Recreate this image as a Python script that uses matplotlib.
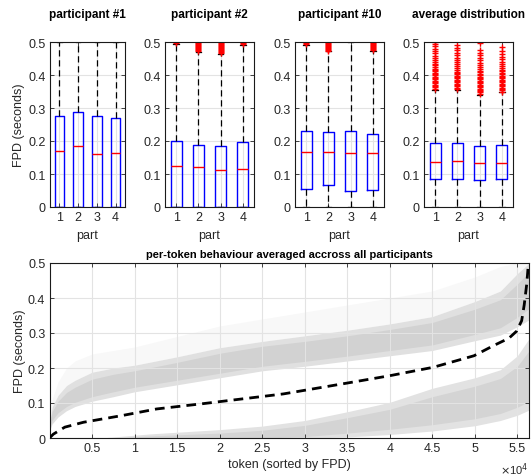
import matplotlib
matplotlib.use('Agg')
import matplotlib.pyplot as plt
import numpy as np

plt.rcParams['font.family'] = ['Liberation Sans', 'DejaVu Sans']

# ---------------- data: top box plots ----------------
panel_titles = ['participant #1', 'participant #2', 'participant #10', 'average distribution']
parts = [1, 2, 3, 4]

p1_q1 = [0.0, 0.0, 0.0, 0.0]
p1_med = [0.169, 0.185, 0.162, 0.164]
p1_q3 = [0.275, 0.289, 0.276, 0.270]
p1_lo = [0.0, 0.0, 0.0, 0.0]
p1_hi = [0.5, 0.5, 0.5, 0.5]
p1_out = [[], [], [], []]

p2_q1 = [0.0, 0.0, 0.0, 0.0]
p2_med = [0.123, 0.121, 0.111, 0.114]
p2_q3 = [0.199, 0.188, 0.185, 0.196]
p2_lo = [0.0, 0.0, 0.0, 0.0]
p2_hi = [0.495, 0.470, 0.463, 0.492]
p2_out = [[0.497, 0.5],
          [0.473, 0.476, 0.479, 0.482, 0.485, 0.488, 0.491, 0.494, 0.497, 0.5],
          [0.466, 0.469, 0.472, 0.475, 0.478, 0.481, 0.484, 0.487, 0.490, 0.493, 0.496, 0.5],
          [0.494, 0.497, 0.5]]

p3_q1 = [0.056, 0.066, 0.049, 0.053]
p3_med = [0.167, 0.167, 0.164, 0.164]
p3_q3 = [0.229, 0.228, 0.229, 0.221]
p3_lo = [0.0, 0.0, 0.0, 0.0]
p3_hi = [0.492, 0.472, 0.5, 0.474]
p3_out = [[0.494, 0.497, 0.5],
          [0.474, 0.477, 0.480, 0.483, 0.486, 0.489, 0.492, 0.495, 0.498, 0.5],
          [],
          [0.476, 0.479, 0.482, 0.485, 0.488, 0.491, 0.494, 0.497, 0.5]]

p4_q1 = [0.085, 0.086, 0.082, 0.084]
p4_med = [0.135, 0.138, 0.132, 0.134]
p4_q3 = [0.193, 0.193, 0.186, 0.189]
p4_lo = [0.0, 0.0, 0.0, 0.0]
p4_hi = [0.356, 0.355, 0.340, 0.347]
p4_out = [[0.359, 0.363, 0.367, 0.371, 0.375, 0.379, 0.383, 0.387, 0.391, 0.395, 0.399, 0.403,
           0.407, 0.411, 0.415, 0.419, 0.424, 0.429, 0.434, 0.440, 0.446, 0.452, 0.459, 0.466,
           0.473, 0.480, 0.487, 0.494, 0.5],
          [0.358, 0.362, 0.366, 0.370, 0.374, 0.378, 0.382, 0.386, 0.390, 0.394, 0.398, 0.402,
           0.406, 0.410, 0.415, 0.420, 0.426, 0.432, 0.438, 0.445, 0.452, 0.460, 0.468, 0.476,
           0.483, 0.490],
          [0.343, 0.347, 0.351, 0.355, 0.359, 0.363, 0.367, 0.371, 0.375, 0.379, 0.383, 0.387,
           0.391, 0.395, 0.399, 0.403, 0.408, 0.413, 0.418, 0.424, 0.430, 0.437, 0.444, 0.452,
           0.460, 0.468, 0.476, 0.497],
          [0.350, 0.354, 0.358, 0.362, 0.366, 0.370, 0.374, 0.378, 0.382, 0.386, 0.390, 0.394,
           0.398, 0.402, 0.406, 0.411, 0.416, 0.421, 0.427, 0.433, 0.440, 0.447, 0.455, 0.463,
           0.472, 0.485]]

panels = [
    (p1_q1, p1_med, p1_q3, p1_lo, p1_hi, p1_out),
    (p2_q1, p2_med, p2_q3, p2_lo, p2_hi, p2_out),
    (p3_q1, p3_med, p3_q3, p3_lo, p3_hi, p3_out),
    (p4_q1, p4_med, p4_q3, p4_lo, p4_hi, p4_out),
]

ytick_vals = [0, 0.1, 0.2, 0.3, 0.4, 0.5]
ytick_labels = ['0', '0.1', '0.2', '0.3', '0.4', '0.5']

# ---------------- data: bottom per-token plot ----------------
mean_x = [0, 450, 1800, 4000, 8500, 12600, 18000, 24800, 27500, 35000, 40000, 45100,
          49900, 52200, 54000, 54900, 55500, 55800, 56100, 56300]
mean_y = [0, 0.011, 0.031, 0.045, 0.064, 0.083, 0.098, 0.118, 0.126, 0.157, 0.178, 0.202,
          0.235, 0.264, 0.285, 0.305, 0.335, 0.380, 0.440, 0.500]

# upper cloud: outer edges (visible extent) and dense core
up_x = [0, 300, 1000, 2000, 3000, 5000, 7500, 10000, 15000, 20000, 25000, 30000, 35000,
        40000, 45000, 50000, 53000, 55000, 56400]
up_lo = [0.020, 0.040, 0.060, 0.078, 0.090, 0.105, 0.118, 0.132, 0.152, 0.172, 0.192, 0.205,
         0.220, 0.235, 0.250, 0.278, 0.294, 0.318, 0.338]
up_hi = [0.040, 0.088, 0.122, 0.150, 0.165, 0.188, 0.200, 0.208, 0.232, 0.258, 0.276, 0.292,
         0.308, 0.326, 0.347, 0.390, 0.420, 0.470, 0.500]
up_core_lo = [0.025, 0.050, 0.072, 0.090, 0.102, 0.118, 0.132, 0.145, 0.165, 0.185, 0.205, 0.219,
              0.234, 0.250, 0.266, 0.296, 0.315, 0.345, 0.370]
up_core_hi = [0.035, 0.075, 0.105, 0.130, 0.145, 0.168, 0.182, 0.192, 0.216, 0.242, 0.262, 0.276,
              0.292, 0.310, 0.330, 0.368, 0.395, 0.440, 0.475]
up_sparse_hi = [0.05, 0.11, 0.16, 0.20, 0.22, 0.24, 0.25, 0.26, 0.29, 0.32, 0.34, 0.36,
                0.38, 0.40, 0.42, 0.46, 0.49, 0.50, 0.50]

lo_x = [6000, 9000, 12000, 20000, 25000, 30000, 35000, 40000, 45000, 50000, 53000, 55000, 56400]
lo_lo = [0.0, 0.0, 0.0, 0.0, 0.0, 0.0, 0.003, 0.010, 0.020, 0.035, 0.050, 0.065, 0.080]
lo_hi = [0.0, 0.006, 0.012, 0.024, 0.034, 0.050, 0.075, 0.102, 0.142, 0.172, 0.195, 0.235, 0.285]
lo_core_lo = [0.0, 0.0, 0.0, 0.0, 0.0, 0.004, 0.014, 0.025, 0.038, 0.055, 0.070, 0.088, 0.105]
lo_core_hi = [0.0, 0.002, 0.006, 0.014, 0.022, 0.036, 0.058, 0.082, 0.118, 0.148, 0.170, 0.205, 0.250]

xtick_vals = [5000, 10000, 15000, 20000, 25000, 30000, 35000, 40000, 45000, 50000, 55000]
xtick_labels = ['0.5', '1', '1.5', '2', '2.5', '3', '3.5', '4', '4.5', '5', '5.5']

# ---------------- figure ----------------
W, H = 531, 477
fig = plt.figure(figsize=(W / 100, H / 100), dpi=100)

def px_axes(x0, x1, y0, y1):
    return fig.add_axes([x0 / W, 1 - y1 / H, (x1 - x0) / W, (y1 - y0) / H])

TXT = '#262626'
GRID = '#e3e3e3'

def style(ax):
    ax.tick_params(direction='in', length=3, width=0.6, top=True, right=True,
                   labelsize=9, colors=TXT, pad=3)
    for s in ax.spines.values():
        s.set_linewidth(0.8)
        s.set_color('#1a1a1a')
    ax.grid(True, color=GRID, linewidth=0.8)
    ax.set_axisbelow(True)

top_x = [(50, 125), (165, 254), (295, 384), (424, 513)]
for i, (title, (q1, med, q3, lo, hi, out)) in enumerate(zip(panel_titles, panels)):
    ax = px_axes(top_x[i][0], top_x[i][1], 43, 208)
    style(ax)
    stats = []
    for j in range(4):
        stats.append(dict(med=med[j], q1=q1[j], q3=q3[j], whislo=lo[j], whishi=hi[j],
                          fliers=out[j]))
    ax.bxp(stats, positions=parts, widths=0.5, showfliers=True,
           boxprops=dict(color='#0000ff', linewidth=1.0),
           medianprops=dict(color='#ff0000', linewidth=1.0),
           whiskerprops=dict(color='black', linewidth=0.9, linestyle=(0, (5, 3))),
           capprops=dict(color='black', linewidth=0.9),
           capwidths=0.25,
           flierprops=dict(marker='+', markeredgecolor='#ff0000', markersize=5,
                           markeredgewidth=1.0, linestyle='none'))
    ax.set_xlim(0.5, 4.5)
    ax.set_ylim(0, 0.5)
    ax.set_xticks(parts)
    ax.set_xticklabels([str(p) for p in parts])
    ax.set_yticks(ytick_vals)
    ax.set_yticklabels(ytick_labels)
    ax.set_xlabel('part', fontsize=9, color=TXT)
    ax.xaxis.set_label_coords(0.5, -0.135)
    ax.set_title(title, fontsize=8.5, fontweight='bold', pad=18, color='black')
    if i == 0:
        ax.set_ylabel('FPD (seconds)', fontsize=9, color=TXT)
        ax.yaxis.set_label_coords(-0.33, 0.5)

# bottom plot
axb = px_axes(49.5, 529.3, 264, 439)
style(axb)
axb.set_axisbelow('line')
axb.set_xlim(0, 56400)
axb.set_ylim(0, 0.5)

axb.fill_between(up_x, up_hi, up_sparse_hi, color='#f8f8f8', linewidth=0, zorder=1)
axb.fill_between(up_x, up_lo, up_hi, color='#e0e0e0', linewidth=0, zorder=1.1)
axb.fill_between(up_x, up_core_lo, up_core_hi, color='#d2d2d2', linewidth=0, zorder=1.2)
axb.fill_between(lo_x, lo_lo, lo_hi, color='#e2e2e2', linewidth=0, zorder=1.1)
axb.fill_between(lo_x, lo_core_lo, lo_core_hi, color='#d4d4d4', linewidth=0, zorder=1.2)

axb.plot(mean_x, mean_y, color='black', linewidth=2.0, linestyle=(0, (3.5, 2.2)), zorder=3)

axb.set_xticks(xtick_vals)
axb.set_xticklabels(xtick_labels)
axb.set_yticks(ytick_vals)
axb.set_yticklabels(ytick_labels)
axb.set_xlabel('token (sorted by FPD)', fontsize=9, color=TXT)
axb.xaxis.set_label_coords(0.5, -0.115)
axb.set_ylabel('FPD (seconds)', fontsize=9, color=TXT)
axb.yaxis.set_label_coords(-0.05, 0.5)
axb.set_title('per-token behaviour averaged accross all participants', fontsize=8,
              fontweight='bold', pad=4, color='black')
axb.text(0.968, -0.175, r'$\times$10$^4$', transform=axb.transAxes, fontsize=8,
         color=TXT, ha='center', va='center')

fig.savefig('out.png', dpi=100)
